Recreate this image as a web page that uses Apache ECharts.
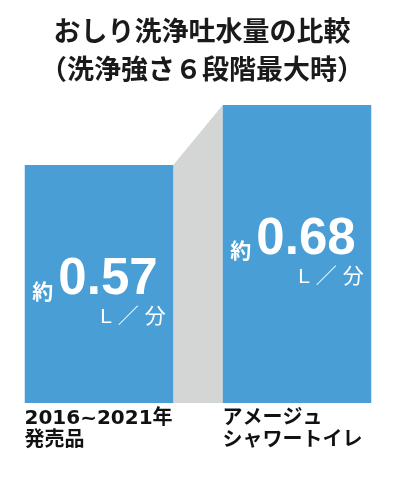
<!DOCTYPE html>
<html>
<head>
<meta charset="utf-8">
<script src="https://cdn.jsdelivr.net/npm/echarts@6/dist/echarts.min.js"></script>
<style>
  html, body { margin: 0; padding: 0; background: #fff; }
  #main { width: 404px; height: 478px; }
</style>
</head>
<body>
<div id="main"></div>
<script>
// データ
const categories = ['2016~2021年\n発売品', 'アメージュ\nシャワートイレ'];
const values = [0.57, 0.68];        // L／分
const valueUnit = 'L ／ 分';
const titleText = 'おしり洗浄吐水量の比較\n（洗浄強さ６段階最大時）';

const Y_MIN = 0.134;  // 軸の下限（図の縦比に合わせる）
const Y_MAX = 0.68;
const BAR_RATIO = 0.75;
const BLUE = '#4a9ed6';
const GRAY = '#d4d5d5';
const JP = '"Noto Sans CJK JP", sans-serif';
const LATIN = '"Liberation Sans", "Noto Sans CJK JP", sans-serif';
const WIDE = '"DejaVu Sans", "Noto Sans CJK JP", sans-serif';

const chart = echarts.init(document.getElementById('main'));

const option = {
  animation: false,
  title: {
    text: titleText,
    left: 'center',
    top: 7,
    padding: [5, 12, 5, 0],  // 少し左へ
    textStyle: {
      fontFamily: JP,
      fontSize: 27,
      lineHeight: 38,
      fontWeight: 'bold',
      color: '#1a1a1a'
    }
  },
  grid: { left: 0, right: 8, top: 105, bottom: 75 },
  xAxis: {
    type: 'category',
    data: categories,
    axisLine: { show: false },
    axisTick: { show: false },
    axisLabel: {
      interval: 0,
      margin: 5,
      // 棒の左端にそろえる
      formatter: (v) => v.split('\n').map(s => '{a|' + s + '}').join('\n'),
      rich: {
        a: {
          width: 149,
          align: 'left',
          fontFamily: WIDE,
          fontSize: 20,
          lineHeight: 22,
          fontWeight: 'bold',
          color: '#111'
        }
      }
    }
  },
  yAxis: { type: 'value', min: Y_MIN, max: Y_MAX, show: false },
  series: [
    {
      // 2本の棒をつなぐ灰色の面
      type: 'custom',
      z: 1,
      silent: true,
      data: [[0]],
      renderItem: (params, api) => {
        const half = api.size([1, 0])[0] * BAR_RATIO / 2;
        const p0 = api.coord([0, values[0]]);
        const p1 = api.coord([1, values[1]]);
        const base = api.coord([0, Y_MIN]);
        return {
          type: 'polygon',
          shape: {
            points: [
              [p0[0] + half, p0[1]],
              [p1[0] - half, p1[1]],
              [p1[0] - half, base[1]],
              [p0[0] + half, base[1]]
            ]
          },
          style: { fill: GRAY }
        };
      }
    },
    {
      type: 'bar',
      z: 2,
      barWidth: (BAR_RATIO * 100) + '%',
      itemStyle: { color: BLUE },
      label: {
        show: true,
        position: 'inside',
        formatter: (p) => '{y|約}{n|' + p.value.toFixed(2) + '}\n{u|' + valueUnit + '}',
        rich: {
          y: { fontFamily: JP, fontSize: 21, fontWeight: 'bold', color: '#fff', verticalAlign: 'bottom', padding: [0, 5, 4, 0], lineHeight: 50 },
          n: { fontFamily: LATIN, fontSize: 51, fontWeight: 'bold', color: '#fff', lineHeight: 50, padding: [0, 8, 0, 0] },
          u: { fontFamily: LATIN, fontSize: 21, color: '#fff', align: 'right', lineHeight: 24 }
        }
      },
      data: values.map((v, i) => ({ value: v, label: { offset: i === 0 ? [0, 8] : [0, -2] } }))
    }
  ]
};

chart.setOption(option);
</script>
</body>
</html>
